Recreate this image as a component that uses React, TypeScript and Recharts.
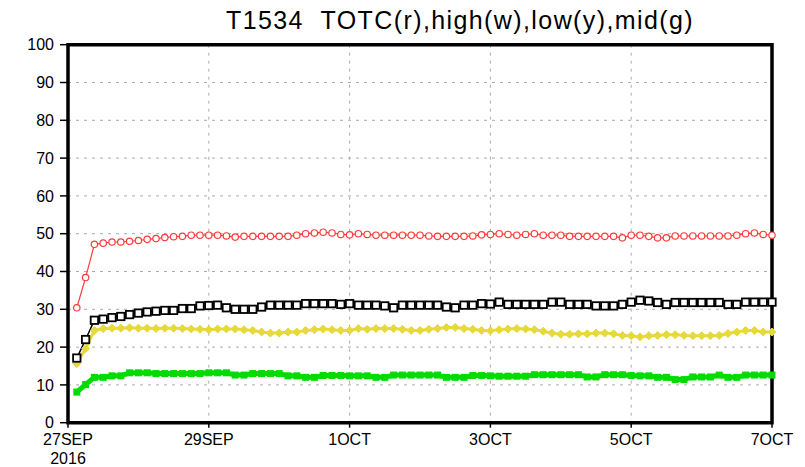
import React from "react";
import { LineChart, Line, XAxis, YAxis, CartesianGrid, ReferenceArea } from "recharts";

const TITLE = "T1534\u00A0\u00A0TOTC(r),high(w),low(y),mid(g)";

const hours = [
  3, 6, 9, 12, 15, 18, 21, 24, 27, 30, 33, 36, 39, 42, 45, 48,
  51, 54, 57, 60, 63, 66, 69, 72, 75, 78, 81, 84, 87, 90, 93, 96,
  99, 102, 105, 108, 111, 114, 117, 120, 123, 126, 129, 132, 135, 138, 141, 144,
  147, 150, 153, 156, 159, 162, 165, 168, 171, 174, 177, 180, 183, 186, 189, 192,
  195, 198, 201, 204, 207, 210, 213, 216, 219, 222, 225, 228, 231, 234, 237, 240,
];

const totc = [
  30.4, 38.4, 47.2, 47.5, 47.8, 47.8, 48.0, 48.2, 48.5, 48.7, 49.0, 49.2, 49.3, 49.6, 49.6, 49.6,
  49.6, 49.4, 49.1, 49.3, 49.3, 49.3, 49.3, 49.3, 49.3, 49.6, 50.0, 50.2, 50.4, 50.2, 49.8, 49.7,
  50.0, 49.8, 49.6, 49.6, 49.6, 49.6, 49.6, 49.6, 49.4, 49.3, 49.3, 49.3, 49.3, 49.4, 49.7, 49.8,
  50.0, 49.8, 49.6, 49.8, 50.0, 49.6, 49.6, 49.6, 49.3, 49.3, 49.3, 49.3, 49.3, 49.3, 48.9, 49.6,
  49.6, 49.3, 48.9, 48.9, 49.4, 49.4, 49.4, 49.4, 49.4, 49.4, 49.4, 49.6, 50.0, 50.2, 49.8, 49.6,
];

const high = [
  17.1, 22.0, 27.1, 27.4, 27.8, 28.1, 28.6, 29.0, 29.3, 29.5, 29.7, 29.7, 30.2, 30.2, 30.9, 31.0,
  31.1, 30.4, 30.0, 30.0, 30.0, 30.6, 31.1, 31.1, 31.1, 31.1, 31.5, 31.5, 31.5, 31.5, 31.3, 31.5,
  31.1, 31.1, 31.1, 30.9, 30.4, 31.1, 31.1, 31.1, 31.1, 31.1, 30.6, 30.4, 31.1, 31.1, 31.5, 31.4,
  31.9, 31.3, 31.3, 31.3, 31.3, 31.3, 31.9, 31.9, 31.3, 31.3, 31.3, 30.9, 30.9, 30.9, 31.3, 31.9,
  32.4, 32.2, 31.8, 31.3, 31.8, 31.8, 31.8, 31.8, 31.8, 31.8, 31.3, 31.3, 31.9, 31.9, 31.9, 31.9,
];

const low = [
  15.6, 19.6, 24.4, 24.9, 25.0, 25.0, 25.1, 25.0, 25.0, 24.9, 25.0, 25.0, 24.9, 24.8, 24.7, 24.6,
  24.8, 24.8, 24.8, 24.6, 24.4, 24.0, 23.7, 23.7, 24.0, 24.0, 24.4, 24.6, 24.8, 24.6, 24.4, 24.4,
  24.9, 24.7, 24.9, 24.9, 24.9, 24.7, 24.4, 24.4, 24.7, 24.9, 25.2, 25.2, 24.9, 24.7, 24.4, 24.3,
  24.6, 24.8, 24.9, 24.8, 24.6, 24.2, 23.7, 23.4, 23.4, 23.5, 23.5, 23.7, 23.7, 23.5, 23.1, 23.0,
  22.7, 23.0, 23.1, 23.3, 23.3, 23.1, 23.0, 23.0, 23.0, 23.1, 23.6, 24.0, 24.4, 24.4, 24.0, 24.0,
];

const mid = [
  8.1, 10.1, 12.0, 12.0, 12.4, 12.4, 13.2, 13.2, 13.2, 13.0, 13.0, 13.0, 13.0, 13.0, 13.0, 13.2,
  13.2, 13.2, 12.6, 12.6, 13.0, 13.0, 13.0, 13.0, 12.4, 12.4, 12.0, 12.0, 12.5, 12.5, 12.5, 12.4,
  12.4, 12.4, 12.0, 12.0, 12.6, 12.6, 12.6, 12.6, 12.6, 12.6, 12.0, 12.0, 12.0, 12.5, 12.5, 12.4,
  12.3, 12.3, 12.3, 12.3, 12.7, 12.7, 12.7, 12.7, 12.7, 12.7, 12.1, 12.1, 12.7, 12.7, 12.7, 12.5,
  12.4, 12.4, 12.0, 12.0, 11.4, 11.4, 12.1, 12.1, 12.1, 12.6, 12.0, 12.0, 12.6, 12.6, 12.6, 12.6,
];

const xTicks = [0, 48, 96, 144, 192, 240];
const xTickLabels = ["27SEP", "29SEP", "1OCT", "3OCT", "5OCT", "7OCT"];
const yearLabel = "2016";
const yTicks = [0, 10, 20, 30, 40, 50, 60, 70, 80, 90, 100];

const data = hours.map((h, i) => ({ h, totc: totc[i], high: high[i], low: low[i], mid: mid[i] }));

const FONT = "'Liberation Sans', Arial, sans-serif";

const XTick = (props: any) => {
  const { x, y, payload } = props;
  const idx = xTicks.indexOf(payload.value);
  return (
    <g>
      <text x={x} y={y} dy={15} textAnchor="middle" fontFamily={FONT} fontSize={16} fill="#000">
        {xTickLabels[idx]}
      </text>
      {idx === 0 && (
        <text x={x} y={y} dy={34} textAnchor="middle" fontFamily={FONT} fontSize={16} fill="#000">
          {yearLabel}
        </text>
      )}
    </g>
  );
};

const openCircle = (props: any) => {
  const { cx, cy, index } = props;
  if (cx == null || cy == null) return <g key={`c${index}`} />;
  return <circle key={`c${index}`} cx={cx} cy={cy} r={3.2} fill="#fff" stroke="#ff3b3b" strokeWidth={1.2} />;
};

const openSquare = (props: any) => {
  const { cx, cy, index } = props;
  if (cx == null || cy == null) return <g key={`s${index}`} />;
  return <rect key={`s${index}`} x={cx - 3.7} y={cy - 3.7} width={7.4} height={7.4} fill="#fff" stroke="#000" strokeWidth={1.8} />;
};

const yellowDiamond = (props: any) => {
  const { cx, cy, index } = props;
  if (cx == null || cy == null) return <g key={`d${index}`} />;
  return (
    <path key={`d${index}`} d={`M${cx},${cy - 4}L${cx + 4},${cy}L${cx},${cy + 4}L${cx - 4},${cy}Z`} fill="#e6d93a" stroke="#e6d93a" strokeWidth={1} />
  );
};

const greenSquare = (props: any) => {
  const { cx, cy, index } = props;
  if (cx == null || cy == null) return <g key={`g${index}`} />;
  return <rect key={`g${index}`} x={cx - 3.5} y={cy - 3.5} width={7} height={7} fill="#00dc00" />;
};

export default function App() {
  return (
    <div style={{ position: "relative", width: 797, height: 459 }}>
      <svg width={797} height={40} style={{ position: "absolute", left: 0, top: 0, overflow: "visible" }}>
        <text x={452} y={21} textAnchor="middle" fontFamily={FONT} fontSize={25} letterSpacing={1.4} fill="#000">
          {TITLE}
        </text>
      </svg>
      <LineChart
        width={797}
        height={459}
        data={data}
        margin={{ top: 36.7, right: 33, bottom: 0, left: 10 }}
        style={{ position: "absolute", left: 0, top: 0 }}
      >
        <CartesianGrid stroke="#aaaaaa" strokeDasharray="3 5" strokeWidth={1} />
        <XAxis
          dataKey="h"
          type="number"
          domain={[0, 240]}
          ticks={xTicks}
          height={44.3}
          tick={<XTick />}
          tickSize={5}
          tickLine={{ stroke: "#000", strokeWidth: 1.5 }}
          axisLine={false}
          interval={0}
        />
        <YAxis
          type="number"
          domain={[0, 100]}
          ticks={yTicks}
          width={50}
          tickSize={8}
          tickMargin={6}
          interval={0}
          tickLine={{ stroke: "#000", strokeWidth: 1.5 }}
          axisLine={false}
          tick={{ fontFamily: FONT, fontSize: 16, fill: "#000" }}
        />
        <Line dataKey="mid" stroke="#00dc00" strokeWidth={5} dot={greenSquare} isAnimationActive={false} />
        <Line dataKey="low" stroke="#e6d93a" strokeWidth={3} dot={yellowDiamond} isAnimationActive={false} />
        <Line dataKey="high" stroke="#000" strokeWidth={1.5} dot={openSquare} isAnimationActive={false} />
        <Line dataKey="totc" stroke="#ff3b3b" strokeWidth={1.2} dot={openCircle} isAnimationActive={false} />
        <ReferenceArea x1={0} x2={240} y1={0} y2={100} fill="none" stroke="#000" strokeWidth={3.5} ifOverflow="visible" />
      </LineChart>
    </div>
  );
}
